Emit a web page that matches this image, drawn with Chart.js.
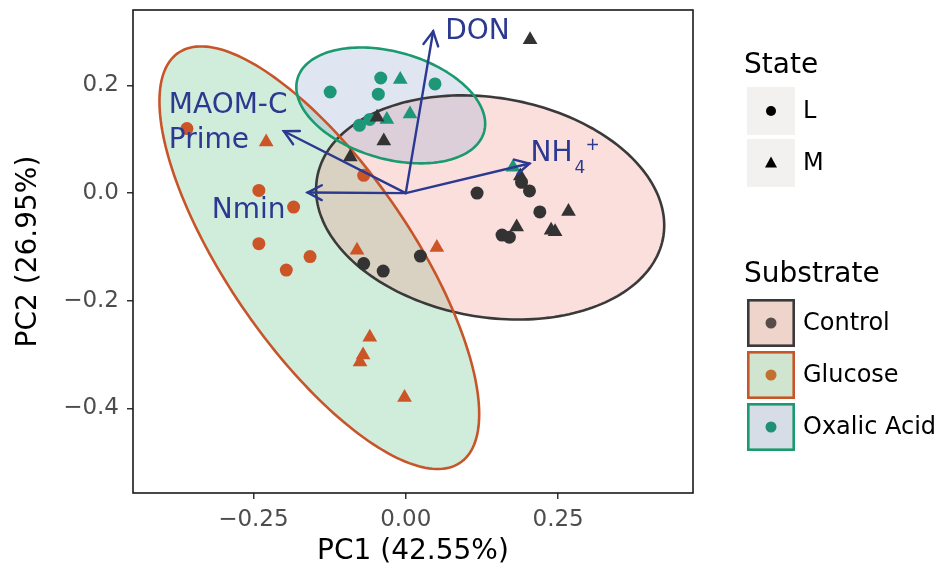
<!DOCTYPE html>
<html><head><meta charset="utf-8">
<script src="https://cdn.jsdelivr.net/npm/chart.js@4.4.1/dist/chart.umd.min.js"></script>
<style>html,body{margin:0;padding:0;background:#fff}#wrap{width:942px;height:577px}</style>
</head><body><div id="wrap"><canvas id="c" width="942" height="577"></canvas></div>
<script>
// ---- data ----
const substrates = ['Control', 'Glucose', 'Oxalic Acid'];
const states = ['L', 'M'];

const controlL = [[0.117,0.000],[0.190,0.020],[0.203,0.004],[0.220,-0.035],[0.158,-0.078],[0.170,-0.082],[-0.069,-0.131],[-0.037,-0.145],[0.024,-0.117]];
const controlM = [[0.204,0.285],[-0.047,0.141],[-0.036,0.097],[-0.091,0.067],[0.188,0.032],[0.267,-0.034],[0.182,-0.063],[0.2385,-0.069],[0.245,-0.072]];
const glucoseL = [[-0.359,0.120],[-0.241,0.005],[-0.184,-0.026],[-0.241,-0.094],[-0.157,-0.118],[-0.196,-0.143],[-0.069,0.033]];
const glucoseM = [[-0.229,0.095],[-0.080,-0.106],[0.051,-0.101],[-0.059,-0.268],[-0.070,-0.301],[-0.075,-0.314],[-0.002,-0.380]];
const oxalicL = [[-0.041,0.214],[-0.124,0.188],[-0.045,0.184],[-0.076,0.126],[-0.059,0.137],[0.048,0.203]];
const oxalicM = [[-0.009,0.211],[-0.031,0.137],[0.007,0.147],[0.176,0.048]];

// loading vectors (arrow tips, from origin)
const loadingNames = ['DON', 'MAOM-C\nPrime', 'Nmin', 'NH4+'];
const loadingX = [0.045, -0.200, -0.161, 0.203];
const loadingY = [0.301, 0.115, 0.001, 0.055];

// confidence ellipses: Control, Glucose, Oxalic Acid
const ellipseCX = [0.1385, -0.1418, -0.0246];
const ellipseCY = [-0.0267, -0.1201, 0.1630];
const ellipseSX = [0.2856, 0.2623, 0.1549];
const ellipseSY = [0.2084, 0.3928, 0.1077];
const ellipseR  = [-0.16, -0.740, -0.316];

const xTicks = [-0.25, 0, 0.25];
const xTickLabels = ['\u22120.25', '0.00', '0.25'];
const yTicks = [-0.4, -0.2, 0, 0.2];
const yTickLabels = ['\u22120.4', '\u22120.2', '0.0', '0.2'];

// ---- styles ----
const FONT = "'DejaVu Sans', 'Liberation Sans', Arial, sans-serif";
const pointCol = ['#333333', '#cc5528', '#1e9678'];
const edgeCol = ['#3a3a3a', '#c8552a', '#1a9a6e'];
const fillCol = ['rgba(240,150,140,0.3)', 'rgba(120,200,150,0.35)', 'rgba(150,170,210,0.3)'];
const keyFill = ['#efd4cc', '#cfe5d0', '#d6dde7'];
const keyDot = ['#584c4a', '#c2702e', '#1f8f78'];
const arrowCol = '#2b3990';

const toPts = a => a.map(p => ({x: p[0], y: p[1]}));
const groups = [[controlL, controlM], [glucoseL, glucoseM], [oxalicL, oxalicM]];
const datasets = [];
groups.forEach((g, si) => g.forEach((arr, ti) => {
  datasets.push({
    label: substrates[si] + ' ' + states[ti],
    data: toPts(arr),
    pointStyle: ti === 0 ? 'circle' : 'triangle',
    pointRadius: ti === 0 ? 6.5 : 8.5,
    pointBackgroundColor: pointCol[si],
    pointBorderColor: pointCol[si],
    pointBorderWidth: 0,
    showLine: false
  });
}));

function ellipsePath(ctx, xs, ys, i) {
  const n = 200, r = ellipseR[i], q = Math.sqrt(1 - r * r);
  ctx.beginPath();
  for (let k = 0; k <= n; k++) {
    const t = 2 * Math.PI * k / n;
    const dx = ellipseSX[i] * Math.cos(t);
    const dy = ellipseSY[i] * (r * Math.cos(t) + q * Math.sin(t));
    const px = xs.getPixelForValue(ellipseCX[i] + dx);
    const py = ys.getPixelForValue(ellipseCY[i] + dy);
    if (k === 0) ctx.moveTo(px, py); else ctx.lineTo(px, py);
  }
  ctx.closePath();
}

const ellipsePlugin = {
  id: 'ellipses',
  beforeDatasetsDraw(chart) {
    const {ctx, chartArea: a, scales: {x, y}} = chart;
    ctx.save();
    ctx.beginPath(); ctx.rect(a.left, a.top, a.right - a.left, a.bottom - a.top); ctx.clip();
    [1, 0, 2].forEach(i => { ellipsePath(ctx, x, y, i); ctx.fillStyle = fillCol[i]; ctx.fill(); });
    ctx.lineWidth = 2.6;
    [0, 1, 2].forEach(i => { ellipsePath(ctx, x, y, i); ctx.strokeStyle = edgeCol[i]; ctx.stroke(); });
    ctx.restore();
  }
};

const arrowPlugin = {
  id: 'arrows',
  afterDatasetsDraw(chart) {
    const {ctx, chartArea: a, scales: {x, y}} = chart;
    ctx.save();
    const ox = x.getPixelForValue(0), oy = y.getPixelForValue(0);
    ctx.strokeStyle = arrowCol; ctx.lineWidth = 2.4; ctx.lineCap = 'round';
    const tips = [];
    for (let i = 0; i < loadingX.length; i++) {
      const tx = x.getPixelForValue(loadingX[i]), ty = y.getPixelForValue(loadingY[i]);
      tips.push([tx, ty]);
      ctx.beginPath(); ctx.moveTo(ox, oy); ctx.lineTo(tx, ty); ctx.stroke();
      const ang = Math.atan2(ty - oy, tx - ox), L = 16, w = Math.PI / 6.5;
      ctx.beginPath();
      ctx.moveTo(tx - L * Math.cos(ang - w), ty - L * Math.sin(ang - w));
      ctx.lineTo(tx, ty);
      ctx.lineTo(tx - L * Math.cos(ang + w), ty - L * Math.sin(ang + w));
      ctx.stroke();
    }
    // labels
    ctx.fillStyle = arrowCol; ctx.textBaseline = 'alphabetic';
    ctx.font = '28px ' + FONT;
    ctx.textAlign = 'left';
    ctx.fillText('DON', tips[0][0] + 12, tips[0][1] + 8);
    const ml = loadingNames[1].split('\n');
    ctx.fillText(ml[0], tips[1][0] - 115, tips[1][1] - 18);
    ctx.fillText(ml[1], tips[1][0] - 115, tips[1][1] + 17);
    ctx.textAlign = 'right';
    ctx.fillText(loadingNames[2], tips[2][0] - 22, tips[2][1] + 25);
    ctx.textAlign = 'left';
    const nx = tips[3][0] + 1, ny = tips[3][1] - 3;
    ctx.fillText('NH', nx, ny);
    const w2 = ctx.measureText('NH').width;
    ctx.font = '17px ' + FONT;
    ctx.fillText('4', nx + w2 + 2, ny + 12);
    ctx.fillText('+', nx + w2 + 13, ny - 11);
    // frame
    ctx.strokeStyle = '#1a1a1a'; ctx.lineWidth = 1.6; ctx.lineCap = 'butt';
    ctx.strokeRect(a.left, a.top, a.right - a.left, a.bottom - a.top);
    ctx.restore();
  }
};

const legendPlugin = {
  id: 'customLegend',
  afterDraw(chart) {
    const ctx = chart.ctx;
    ctx.save();
    ctx.fillStyle = '#000'; ctx.textAlign = 'left'; ctx.textBaseline = 'alphabetic';
    ctx.font = '28px ' + FONT;
    ctx.fillText('State', 744, 73);
    const kx = 747, ks = 48;
    states.forEach((s, i) => {
      const ky = 87 + i * 52;
      ctx.fillStyle = '#f2f1ef'; ctx.fillRect(kx, ky, ks, ks);
      ctx.fillStyle = '#000';
      const cx = kx + ks / 2, cy = ky + ks / 2;
      ctx.beginPath();
      if (i === 0) ctx.arc(cx, cy, 5, 0, Math.PI * 2);
      else { ctx.moveTo(cx, cy - 6.5); ctx.lineTo(cx + 6, cy + 4.5); ctx.lineTo(cx - 6, cy + 4.5); ctx.closePath(); }
      ctx.fill();
      ctx.font = '24px ' + FONT; ctx.textBaseline = 'middle';
      ctx.fillText(s, 803, cy + 1);
      ctx.textBaseline = 'alphabetic';
    });
    ctx.font = '28px ' + FONT; ctx.fillStyle = '#000';
    ctx.fillText('Substrate', 744, 282);
    substrates.forEach((s, i) => {
      const ky = 299 + i * 52;
      ctx.fillStyle = keyFill[i]; ctx.fillRect(kx, ky, ks, ks);
      ctx.strokeStyle = edgeCol[i]; ctx.lineWidth = 2.6;
      ctx.strokeRect(kx + 1.3, ky + 1.3, ks - 2.6, ks - 2.6);
      ctx.fillStyle = keyDot[i];
      ctx.beginPath(); ctx.arc(kx + ks / 2, ky + ks / 2, 5.5, 0, Math.PI * 2); ctx.fill();
      ctx.fillStyle = '#000'; ctx.font = '24px ' + FONT; ctx.textBaseline = 'middle';
      ctx.fillText(s, 803, ky + ks / 2 + 1);
      ctx.textBaseline = 'alphabetic';
    });
    ctx.restore();
  }
};

new Chart(document.getElementById('c'), {
  type: 'scatter',
  data: {datasets},
  options: {
    responsive: false, animation: false, devicePixelRatio: 1,
    layout: {padding: {left: 0, right: 249, top: 10, bottom: 0}},
    plugins: {legend: {display: false}, tooltip: {enabled: false}},
    scales: {
      x: {
        type: 'linear', min: -0.4475, max: 0.4713,
        afterBuildTicks: s => { s.ticks = xTicks.map(v => ({value: v})); },
        afterFit: s => { s.height = 84; s.paddingLeft = 0; s.paddingRight = 0; },
        ticks: {callback: (v, i) => xTickLabels[i], autoSkip: false, maxRotation: 0,
          font: {family: FONT, size: 23}, color: '#4d4d4d', padding: 7},
        grid: {drawOnChartArea: false, drawTicks: true, tickLength: 6, color: '#333', lineWidth: 1.5},
        border: {display: false},
        title: {display: true, text: 'PC1 (42.55%)', font: {family: FONT, size: 28}, color: '#000', padding: {top: 0, bottom: 8}}
      },
      y: {
        type: 'linear', min: -0.5575, max: 0.3404,
        afterBuildTicks: s => { s.ticks = yTicks.map(v => ({value: v})); },
        afterFit: s => { s.width = 133; s.paddingTop = 0; s.paddingBottom = 0; },
        ticks: {callback: (v, i) => yTickLabels[i], autoSkip: false,
          font: {family: FONT, size: 23}, color: '#4d4d4d', padding: 8},
        grid: {drawOnChartArea: false, drawTicks: true, tickLength: 6, color: '#333', lineWidth: 1.5},
        border: {display: false},
        title: {display: true, text: 'PC2 (26.95%)', font: {family: FONT, size: 28}, color: '#000', padding: {top: 12, bottom: 0}}
      }
    }
  },
  plugins: [ellipsePlugin, arrowPlugin, legendPlugin]
});
</script>
</body></html>
